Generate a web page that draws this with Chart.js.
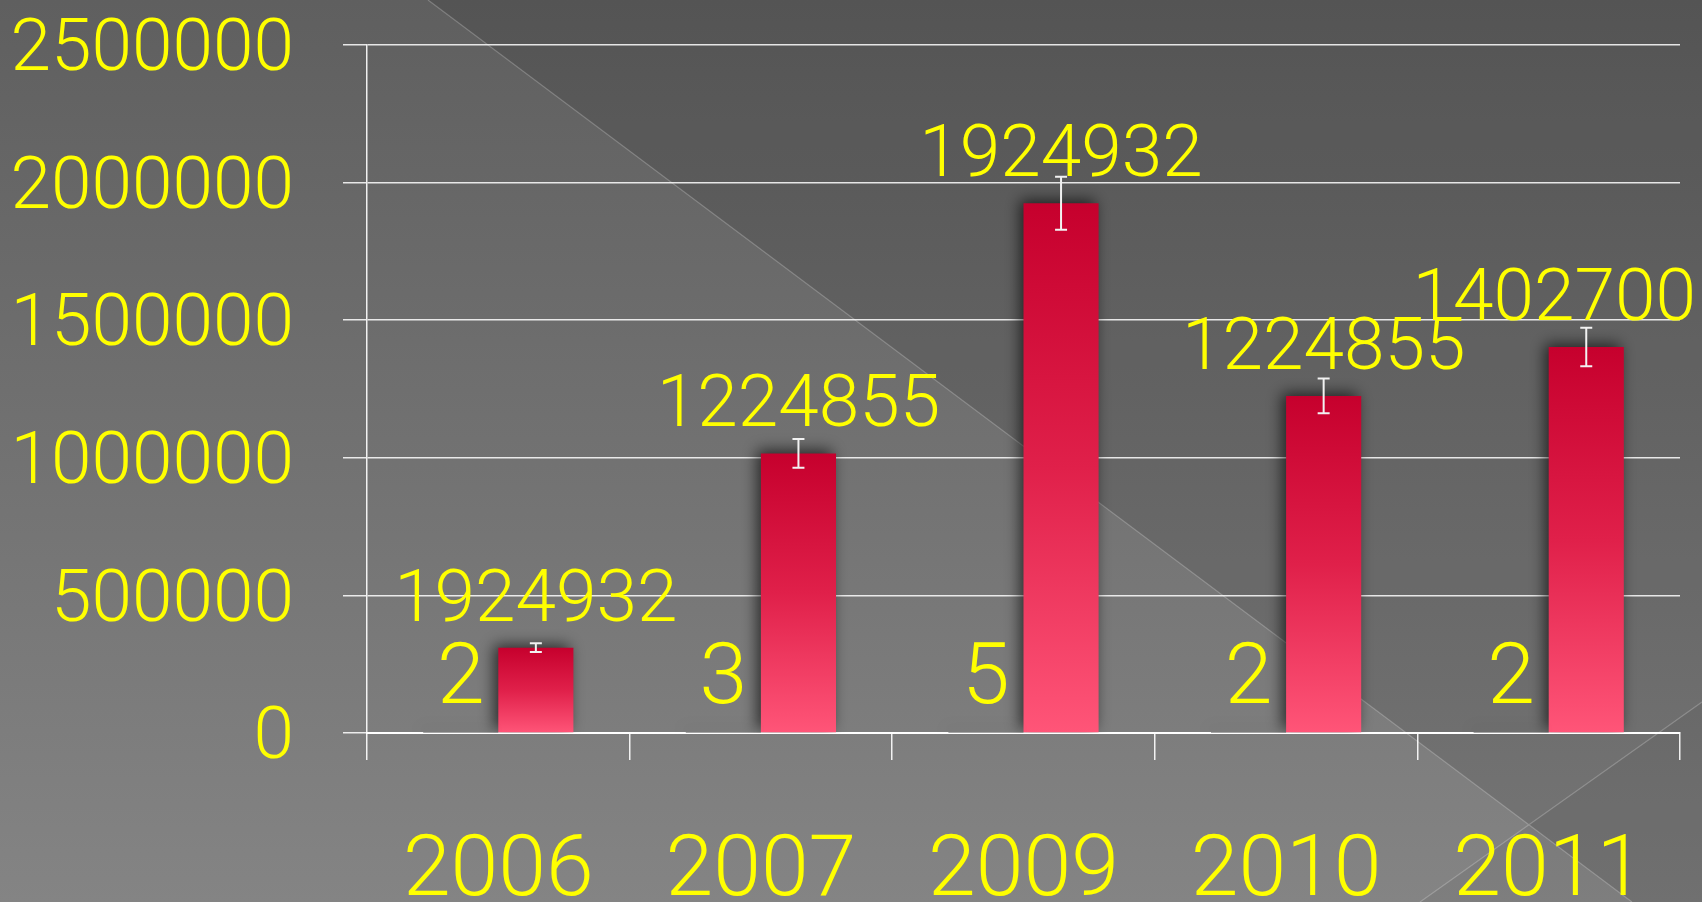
<!DOCTYPE html>
<html>
<head>
<meta charset="utf-8">
<script src="https://cdn.jsdelivr.net/npm/chart.js@4/dist/chart.umd.min.js"></script>
<style>
  html, body { margin: 0; padding: 0; overflow: hidden; background: #6e6e6e; }
  #wrap { width: 1702px; height: 902px; position: relative; }
</style>
</head>
<body>
<div id="wrap"><canvas id="yearChart"></canvas></div>
<script>
const years = ['2006', '2007', '2009', '2010', '2011']
const counts = [2, 3, 5, 2, 2]
const amounts = [310000, 1016000, 1925000, 1224855, 1402700]
const amountErrors = [16000, 52000, 96000, 63000, 70000]
const countLabels = ['2', '3', '5', '2', '2']
const amountLabels = ['1924932', '1224855', '1924932', '1224855', '1402700']
const yTicks = [0, 500000, 1000000, 1500000, 2000000, 2500000]

const FONT = 'Roboto'
const WEIGHT = 300
const YELLOW = '#ffff00'

const barGradient = (context) => {
  const chart = context.chart
  const y = chart.scales.y
  if (!chart.chartArea || !y) return '#d8103f'
  const top = y.getPixelForValue(context.raw)
  const base = y.getPixelForValue(0)
  if (!isFinite(top) || base - top < 1) return 'rgba(60,60,60,0.6)'
  const g = chart.ctx.createLinearGradient(0, top, 0, base)
  g.addColorStop(0, '#c6002d')
  g.addColorStop(0.5, '#e0204a')
  g.addColorStop(1, '#ff5578')
  return g
}

const backdrop = {
  id: 'backdrop',
  beforeDraw(chart) {
    const { ctx, width, height } = chart
    ctx.save()
    const g = ctx.createLinearGradient(0, 0, 0, height)
    g.addColorStop(0, '#5f5f5f')
    g.addColorStop(1, '#848484')
    ctx.fillStyle = g
    ctx.fillRect(0, 0, width, height)
    // darker band right of the long diagonal
    ctx.fillStyle = 'rgba(0,0,0,0.11)'
    ctx.beginPath()
    ctx.moveTo(428, 0)
    ctx.lineTo(width, 0)
    ctx.lineTo(width, height)
    ctx.lineTo(1632, height)
    ctx.closePath()
    ctx.fill()
    ctx.fillStyle = 'rgba(0,0,0,0.04)'
    ctx.beginPath()
    ctx.moveTo(1420, height)
    ctx.lineTo(width, 702)
    ctx.lineTo(width, height)
    ctx.closePath()
    ctx.fill()
    ctx.strokeStyle = 'rgba(255,255,255,0.22)'
    ctx.lineWidth = 1.2
    ctx.beginPath()
    ctx.moveTo(428, 0)
    ctx.lineTo(1632, height)
    ctx.moveTo(1420, height)
    ctx.lineTo(width, 702)
    ctx.stroke()
    ctx.restore()
  }
}

const barExtras = {
  id: 'barExtras',
  beforeDatasetsDraw(chart) {
    const ctx = chart.ctx
    ctx.save()
    ctx.shadowColor = 'rgba(0,0,0,0.65)'
    ctx.shadowBlur = 14
    ctx.shadowOffsetX = -4
    ctx.shadowOffsetY = -3
  },
  afterDatasetsDraw(chart) {
    const ctx = chart.ctx
    ctx.restore()
    const y = chart.scales.y

    // error bars on the amount series
    const amountMeta = chart.getDatasetMeta(1)
    ctx.save()
    ctx.strokeStyle = '#f2f2f2'
    ctx.lineWidth = 2
    amountMeta.data.forEach((bar, i) => {
      const hi = y.getPixelForValue(amounts[i] + amountErrors[i])
      const lo = y.getPixelForValue(amounts[i] - amountErrors[i])
      ctx.beginPath()
      ctx.moveTo(bar.x, hi)
      ctx.lineTo(bar.x, lo)
      ctx.moveTo(bar.x - 6, hi)
      ctx.lineTo(bar.x + 6, hi)
      ctx.moveTo(bar.x - 6, lo)
      ctx.lineTo(bar.x + 6, lo)
      ctx.stroke()
    })
    ctx.restore()

    // data labels
    ctx.save()
    ctx.fillStyle = YELLOW
    ctx.textAlign = 'center'
    ctx.textBaseline = 'alphabetic'
    ctx.font = WEIGHT + ' 86px ' + FONT
    chart.getDatasetMeta(0).data.forEach((bar, i) => {
      ctx.fillText(countLabels[i], bar.x, bar.y - 30)
    })
    ctx.font = WEIGHT + ' 73px ' + FONT
    amountMeta.data.forEach((bar, i) => {
      const w = ctx.measureText(amountLabels[i]).width
      let x = bar.x
      if (x + w / 2 > chart.width - 6) x = chart.width - 6 - w / 2
      ctx.fillText(amountLabels[i], x, bar.y - 27)
    })
    ctx.restore()
  }
}

const ctx = document.getElementById('yearChart').getContext('2d')

new Chart(ctx, {
  type: 'bar',
  data: {
    labels: years,
    datasets: [
      {
        label: 'Count',
        data: counts,
        backgroundColor: barGradient,
        borderWidth: 0,
      },
      {
        label: 'Amount',
        data: amounts,
        backgroundColor: barGradient,
        borderWidth: 0,
      },
    ],
  },
  options: {
    responsive: true,
    maintainAspectRatio: false,
    animation: false,
    events: [],
    layout: { padding: { left: 0, right: 22, top: 45, bottom: 0 } },
    datasets: {
      bar: { categoryPercentage: 0.572, barPercentage: 1.0 },
    },
    plugins: {
      legend: { display: false },
      tooltip: { enabled: false },
    },
    scales: {
      x: {
        grid: {
          offset: true,
          drawOnChartArea: false,
          drawTicks: true,
          tickLength: 27,
          color: 'rgba(255,255,255,0.9)',
          lineWidth: 1.5,
        },
        border: { display: true, color: '#ffffff', width: 2 },
        ticks: {
          color: YELLOW,
          font: { family: FONT, size: 86, weight: WEIGHT, lineHeight: 1.2 },
          padding: 62,
          maxRotation: 0,
          autoSkip: false,
        },
        afterFit(scale) {
          scale.height = 902 - 733
          scale.paddingLeft = 0
          scale.paddingRight = 0
        },
      },
      y: {
        min: 0,
        max: 2500000,
        afterBuildTicks(scale) { scale.ticks = yTicks.map(v => ({ value: v })) },
        grid: {
          color: 'rgba(255,255,255,0.85)',
          lineWidth: 1.5,
          drawTicks: true,
          tickLength: 24,
        },
        border: { display: true, color: 'rgba(255,255,255,0.9)', width: 1.5 },
        ticks: {
          color: YELLOW,
          font: { family: FONT, size: 73, weight: WEIGHT, lineHeight: 1.2 },
          padding: 49,
          labelOffset: 7,
          callback: (value) => String(value),
        },
        afterFit(scale) {
          scale.width = 367
          scale.paddingTop = 0
          scale.paddingBottom = 0
        },
      },
    },
  },
  plugins: [backdrop, barExtras],
})
</script>
</body>
</html>
